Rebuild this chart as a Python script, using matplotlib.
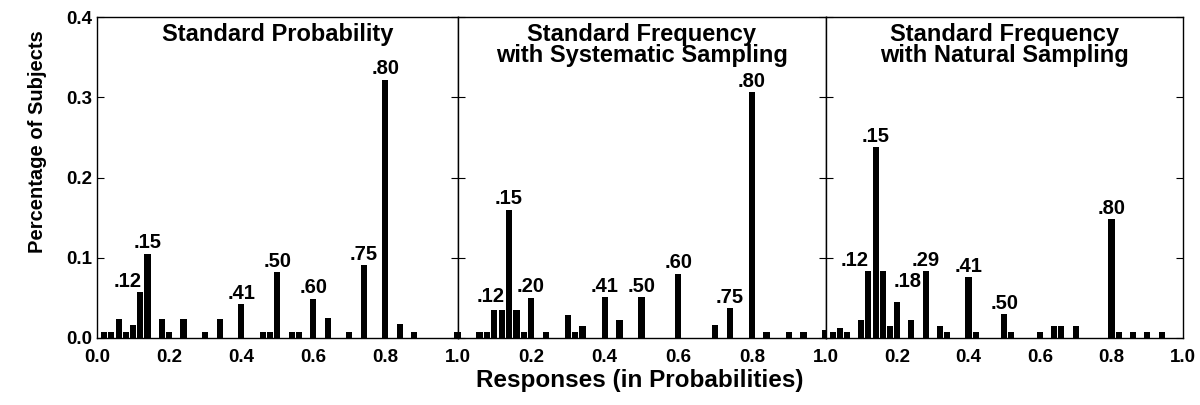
import matplotlib
matplotlib.use('Agg')
import matplotlib.pyplot as plt

plt.rcParams['font.family'] = ['Liberation Sans', 'DejaVu Sans']
plt.rcParams['font.weight'] = 'bold'

# ---------------- data ----------------
titles = ["Standard Probability",
          "Standard Frequency\nwith Systematic Sampling",
          "Standard Frequency\nwith Natural Sampling"]

p1_x = [0.02, 0.04, 0.06, 0.08, 0.10, 0.12, 0.14, 0.18, 0.20, 0.24, 0.30, 0.34, 0.40,
        0.46, 0.48, 0.50, 0.54, 0.56, 0.60, 0.64, 0.70, 0.74, 0.80, 0.84, 0.88, 1.00]
p1_y = [0.008, 0.008, 0.024, 0.008, 0.016, 0.057, 0.105, 0.024, 0.008, 0.024, 0.008, 0.024, 0.042,
        0.008, 0.008, 0.082, 0.008, 0.008, 0.049, 0.025, 0.008, 0.091, 0.322, 0.017, 0.008, 0.008]

p2_x = [0.00, 0.06, 0.08, 0.10, 0.12, 0.14, 0.16, 0.18, 0.20, 0.24, 0.30, 0.32, 0.34, 0.40,
        0.44, 0.50, 0.60, 0.70, 0.74, 0.80, 0.84, 0.90, 0.94, 1.00]
p2_y = [0.008, 0.008, 0.008, 0.035, 0.035, 0.160, 0.035, 0.008, 0.050, 0.008, 0.029, 0.008, 0.015, 0.051,
        0.022, 0.051, 0.080, 0.016, 0.037, 0.306, 0.008, 0.008, 0.008, 0.010]

p3_x = [0.02, 0.04, 0.06, 0.10, 0.12, 0.14, 0.16, 0.18, 0.20, 0.24, 0.28, 0.32, 0.34, 0.40,
        0.42, 0.50, 0.52, 0.60, 0.64, 0.66, 0.70, 0.80, 0.82, 0.86, 0.90, 0.94]
p3_y = [0.007, 0.012, 0.007, 0.022, 0.083, 0.238, 0.083, 0.015, 0.045, 0.023, 0.083, 0.015, 0.007, 0.076,
        0.007, 0.030, 0.007, 0.007, 0.015, 0.015, 0.015, 0.148, 0.007, 0.007, 0.007, 0.007]

# bar labels: text and the bar (x position) they annotate
p1_labels = [".12", ".15", ".41", ".50", ".60", ".75", ".80"]
p1_label_bars = [0.12, 0.14, 0.40, 0.50, 0.60, 0.74, 0.80]
p2_labels = [".12", ".15", ".20", ".41", ".50", ".60", ".75", ".80"]
p2_label_bars = [0.12, 0.14, 0.20, 0.40, 0.50, 0.60, 0.74, 0.80]
p3_labels = [".12", ".15", ".18", ".29", ".41", ".50", ".80"]
p3_label_bars = [0.12, 0.14, 0.20, 0.28, 0.40, 0.50, 0.80]

y_ticks = [0.0, 0.1, 0.2, 0.3, 0.4]
y_ticklabels = ["0.0", "0.1", "0.2", "0.3", "0.4"]
x_ticks = [0.0, 0.2, 0.4, 0.6, 0.8, 1.0]
x_ticklabels = ["0.0", "0.2", "0.4", "0.6", "0.8", "1.0"]

xlabel = "Responses (in Probabilities)"
ylabel = "Percentage of Subjects"

# ---------------- style ----------------
W, H = 1200, 405
fig = plt.figure(figsize=(W / 100, H / 100), dpi=100)

panel_px = [(97, 457.5), (457.5, 825.5), (825.5, 1183)]
top_px, bot_px = 17, 338

# label offsets in points (dx, dy) – layout only
offsets = [
    {".12": (-9, 1)},
    {".12": (-8, 3)},
    {".12": (-10, 1), ".18": (8, 8)},
]

series = [(p1_x, p1_y, p1_labels, p1_label_bars),
          (p2_x, p2_y, p2_labels, p2_label_bars),
          (p3_x, p3_y, p3_labels, p3_label_bars)]

for i, ((l, r), (xs, ys, labs, labx)) in enumerate(zip(panel_px, series)):
    ax = fig.add_axes([l / W, 1 - bot_px / H, (r - l) / W, (bot_px - top_px) / H])
    ax.bar(xs, ys, width=0.017, color='black', linewidth=0, clip_on=False)
    ax.set_xlim(0, 1)
    ax.set_ylim(0, 0.4)
    for s in ax.spines.values():
        s.set_linewidth(1.0)
        s.set_color('black')
    ax.set_yticks(y_ticks)
    ax.tick_params(axis='y', which='both', direction='in', length=5, width=0.8,
                   left=True, right=True, labelsize=13.5)
    if i == 0:
        ax.set_yticklabels(y_ticklabels, fontweight='bold')
        ax.set_xticks(x_ticks)
        ax.set_xticklabels(x_ticklabels, fontweight='bold')
    else:
        ax.set_yticklabels([])
        ax.set_xticks(x_ticks[1:])
        ax.set_xticklabels(x_ticklabels[1:], fontweight='bold')
    ax.tick_params(axis='x', length=0, pad=8, labelsize=13.5)
    ax.text(0.5, 0.982, titles[i], transform=ax.transAxes, ha='center', va='top',
            fontsize=17, fontweight='bold', linespacing=0.92)
    hmap = dict(zip(xs, ys))
    for t, bx in zip(labs, labx):
        dx, dy = offsets[i].get(t, (0, 1))
        ax.annotate(t, xy=(bx, hmap[bx]), xytext=(dx, dy), textcoords='offset points',
                    ha='center', va='bottom', fontsize=14.5, fontweight='bold')

fig.text(640 / W, 1 - 381 / H, xlabel, ha='center', va='center', fontsize=17.5, fontweight='bold')
fig.text(38 / W, 1 - 142 / H, ylabel, ha='center', va='center', rotation=90,
         fontsize=14.5, fontweight='bold')

fig.savefig('out.png', dpi=100)
